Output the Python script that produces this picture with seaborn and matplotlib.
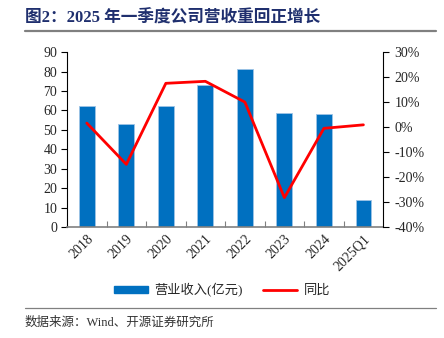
import matplotlib
matplotlib.use("Agg")
import matplotlib.pyplot as plt
import seaborn as sns
import pandas as pd
from matplotlib.patches import Patch
from matplotlib.lines import Line2D
from matplotlib.ticker import FixedLocator, FuncFormatter

categories = ["2018", "2019", "2020", "2021", "2022", "2023", "2024", "2025Q1"]
revenue = [62.1, 52.8, 62.1, 73.3, 81.2, 58.5, 58.0, 13.8]
yoy = [1.6, -14.9, 17.5, 18.3, 10.0, -28.2, -0.5, 0.9]
left_ticks = [0, 10, 20, 30, 40, 50, 60, 70, 80, 90]
right_ticks = [-40, -30, -20, -10, 0, 10, 20, 30]

title = "图2：2025 年一季度公司营收重回正增长"
source = "数据来源：Wind、开源证券研究所"
bar_label = "营业收入(亿元)"
line_label = "同比"

sns.set_theme(style="white")
plt.rcParams["font.family"] = ["Liberation Serif", "Noto Sans CJK SC"]

df = pd.DataFrame({"year": categories, "revenue": revenue, "yoy": yoy})

fig = plt.figure(figsize=(4.44, 3.38), dpi=100)
ax = fig.add_axes([0.151, 0.328, 0.712, 0.518])

sns.barplot(data=df, x="year", y="revenue", color="#0070C0", width=0.4,
            saturation=1, ax=ax, edgecolor="#9DC3E6", linewidth=0.6)
ax.set_ylim(0, 90)
ax.set_xlim(-0.5, len(categories) - 0.5)
ax.set_yticks(left_ticks)
ax.set_xlabel("")
ax.set_ylabel("")

ax2 = ax.twinx()
sns.lineplot(data=df, x="year", y="yoy", color="#FF0000", linewidth=2.0,
             sort=False, ax=ax2)
ax2.set_ylim(-40, 30)
ax2.set_yticks(right_ticks)
ax2.yaxis.set_major_formatter(FuncFormatter(lambda v, p: f"{int(v)}%"))
ax2.set_xlim(-0.5, len(categories) - 0.5)
ax2.set_ylabel("")
ax2.set_xlabel("")

for a in (ax, ax2):
    for s in a.spines.values():
        s.set_visible(False)
ax.spines["left"].set_visible(True)
ax.spines["left"].set_color("black")
ax.spines["left"].set_linewidth(0.8)
ax.spines["bottom"].set_visible(True)
ax.spines["bottom"].set_color("#808080")
ax.spines["bottom"].set_linewidth(1.2)
ax2.spines["right"].set_visible(True)
ax2.spines["right"].set_color("black")
ax2.spines["right"].set_linewidth(0.8)

ax.tick_params(axis="y", which="major", direction="out", length=4, width=0.8,
               color="black", labelsize=10, pad=3, left=True)
ax2.tick_params(axis="y", which="major", direction="out", length=4, width=0.8,
                color="black", labelsize=10, pad=4, right=True)
ax.tick_params(axis="x", which="major", length=0, labelsize=10, pad=4)
ax.xaxis.set_minor_locator(FixedLocator([i + 0.5 for i in range(len(categories) - 1)]))
ax.tick_params(axis="x", which="minor", direction="in", length=4, width=0.8,
               color="#808080", bottom=True)
for lbl in ax.get_xticklabels():
    lbl.set_rotation(45)
    lbl.set_ha("right")
    lbl.set_rotation_mode("anchor")
ax.grid(False)
ax2.grid(False)

# Title and rules
fig.text(0.056, 0.947, title, fontsize=12, fontweight="bold", color="#1F2F6E",
         ha="left", va="center")
fig.add_artist(Line2D([0.056, 0.982], [0.908, 0.908], color="#808080", linewidth=1.6))
fig.add_artist(Line2D([0.056, 0.982], [0.089, 0.089], color="#808080", linewidth=0.9))
fig.text(0.056, 0.045, source, fontsize=9, color="#333333", ha="left", va="center")

handles = [Patch(facecolor="#0070C0", edgecolor="#0070C0"),
           Line2D([0], [0], color="#FF0000", linewidth=2.0)]
fig.legend(handles, [bar_label, line_label], loc="center",
           bbox_to_anchor=(0.5, 0.142), ncol=2, frameon=False, fontsize=9.5,
           handlelength=2.6, handleheight=0.45, columnspacing=1.5, handletextpad=0.5)

fig.savefig("out.png", dpi=100)
